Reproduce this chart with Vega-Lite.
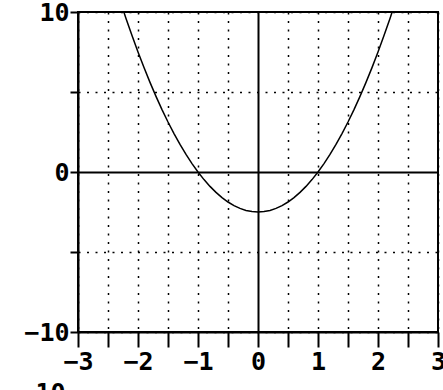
{
  "$schema": "https://vega.github.io/schema/vega-lite/v6.json",
  "width": 360,
  "height": 320,
  "autosize": {"type": "none"},
  "padding": {"left": 78, "top": 12, "right": 5, "bottom": 58},
  "background": "white",
  "config": {
    "view": {"stroke": "black", "strokeWidth": 2},
    "axis": {
      "labelFont": "DejaVu Sans Mono",
      "labelFontWeight": "bold",
      "labelFontSize": 25,
      "labelColor": "black",
      "domainColor": "black",
      "domainWidth": 2,
      "tickColor": "black",
      "tickWidth": 2,
      "gridColor": "black",
      "gridOpacity": 1
    }
  },
  "data": {
    "values": [
      {"x": -2.3, "y": 10.725}, {"x": -2.2, "y": 9.6}, {"x": -2.1, "y": 8.525},
      {"x": -2.0, "y": 7.5}, {"x": -1.9, "y": 6.525}, {"x": -1.8, "y": 5.6},
      {"x": -1.7, "y": 4.725}, {"x": -1.6, "y": 3.9}, {"x": -1.5, "y": 3.125},
      {"x": -1.4, "y": 2.4}, {"x": -1.3, "y": 1.725}, {"x": -1.2, "y": 1.1},
      {"x": -1.1, "y": 0.525}, {"x": -1.0, "y": 0}, {"x": -0.9, "y": -0.475},
      {"x": -0.8, "y": -0.9}, {"x": -0.7, "y": -1.275}, {"x": -0.6, "y": -1.6},
      {"x": -0.5, "y": -1.875}, {"x": -0.4, "y": -2.1}, {"x": -0.3, "y": -2.275},
      {"x": -0.2, "y": -2.4}, {"x": -0.1, "y": -2.475}, {"x": 0.0, "y": -2.5},
      {"x": 0.1, "y": -2.475}, {"x": 0.2, "y": -2.4}, {"x": 0.3, "y": -2.275},
      {"x": 0.4, "y": -2.1}, {"x": 0.5, "y": -1.875}, {"x": 0.6, "y": -1.6},
      {"x": 0.7, "y": -1.275}, {"x": 0.8, "y": -0.9}, {"x": 0.9, "y": -0.475},
      {"x": 1.0, "y": 0}, {"x": 1.1, "y": 0.525}, {"x": 1.2, "y": 1.1},
      {"x": 1.3, "y": 1.725}, {"x": 1.4, "y": 2.4}, {"x": 1.5, "y": 3.125},
      {"x": 1.6, "y": 3.9}, {"x": 1.7, "y": 4.725}, {"x": 1.8, "y": 5.6},
      {"x": 1.9, "y": 6.525}, {"x": 2.0, "y": 7.5}, {"x": 2.1, "y": 8.525},
      {"x": 2.2, "y": 9.6}, {"x": 2.3, "y": 10.725}
    ]
  },
  "mark": {"type": "line", "color": "black", "strokeWidth": 1.5, "clip": true},
  "encoding": {
    "x": {
      "field": "x",
      "type": "quantitative",
      "scale": {"domain": [-3, 3], "nice": false, "zero": false},
      "axis": {
        "values": [-3, -2.5, -2, -1.5, -1, -0.5, 0, 0.5, 1, 1.5, 2, 2.5, 3],
        "labelExpr": "datum.value % 1 === 0 ? format(datum.value, 'd') : ''",
        "labelOverlap": false,
        "labelBound": false,
        "labelFlush": false,
        "tickSize": 15,
        "labelPadding": 2,
        "grid": true,
        "gridDash": {"condition": {"test": "datum.value === 0", "value": []}, "value": [2, 6.5]},
        "gridWidth": {"condition": {"test": "datum.value === 0", "value": 2}, "value": 1.5},
        "title": "10",
        "titleFont": "DejaVu Sans Mono",
        "titleFontWeight": "bold",
        "titleFontSize": 25,
        "titleColor": "black",
        "titleAlign": "left",
        "titleBaseline": "alphabetic",
        "titleAnchor": "start",
        "titleX": -43,
        "titleY": 68
      }
    },
    "y": {
      "field": "y",
      "type": "quantitative",
      "scale": {"domain": [-10, 10], "nice": false, "zero": false},
      "axis": {
        "values": [-10, -5, 0, 5, 10],
        "labelExpr": "datum.value % 10 === 0 ? format(datum.value, 'd') : ''",
        "labelOverlap": false,
        "labelBound": false,
        "labelFlush": false,
        "tickSize": 8,
        "labelPadding": 1,
        "grid": true,
        "gridDash": {"condition": {"test": "datum.value === 0", "value": []}, "value": [2, 6.5]},
        "gridWidth": {"condition": {"test": "datum.value === 0", "value": 2}, "value": 1.5},
        "title": null
      }
    }
  }
}
